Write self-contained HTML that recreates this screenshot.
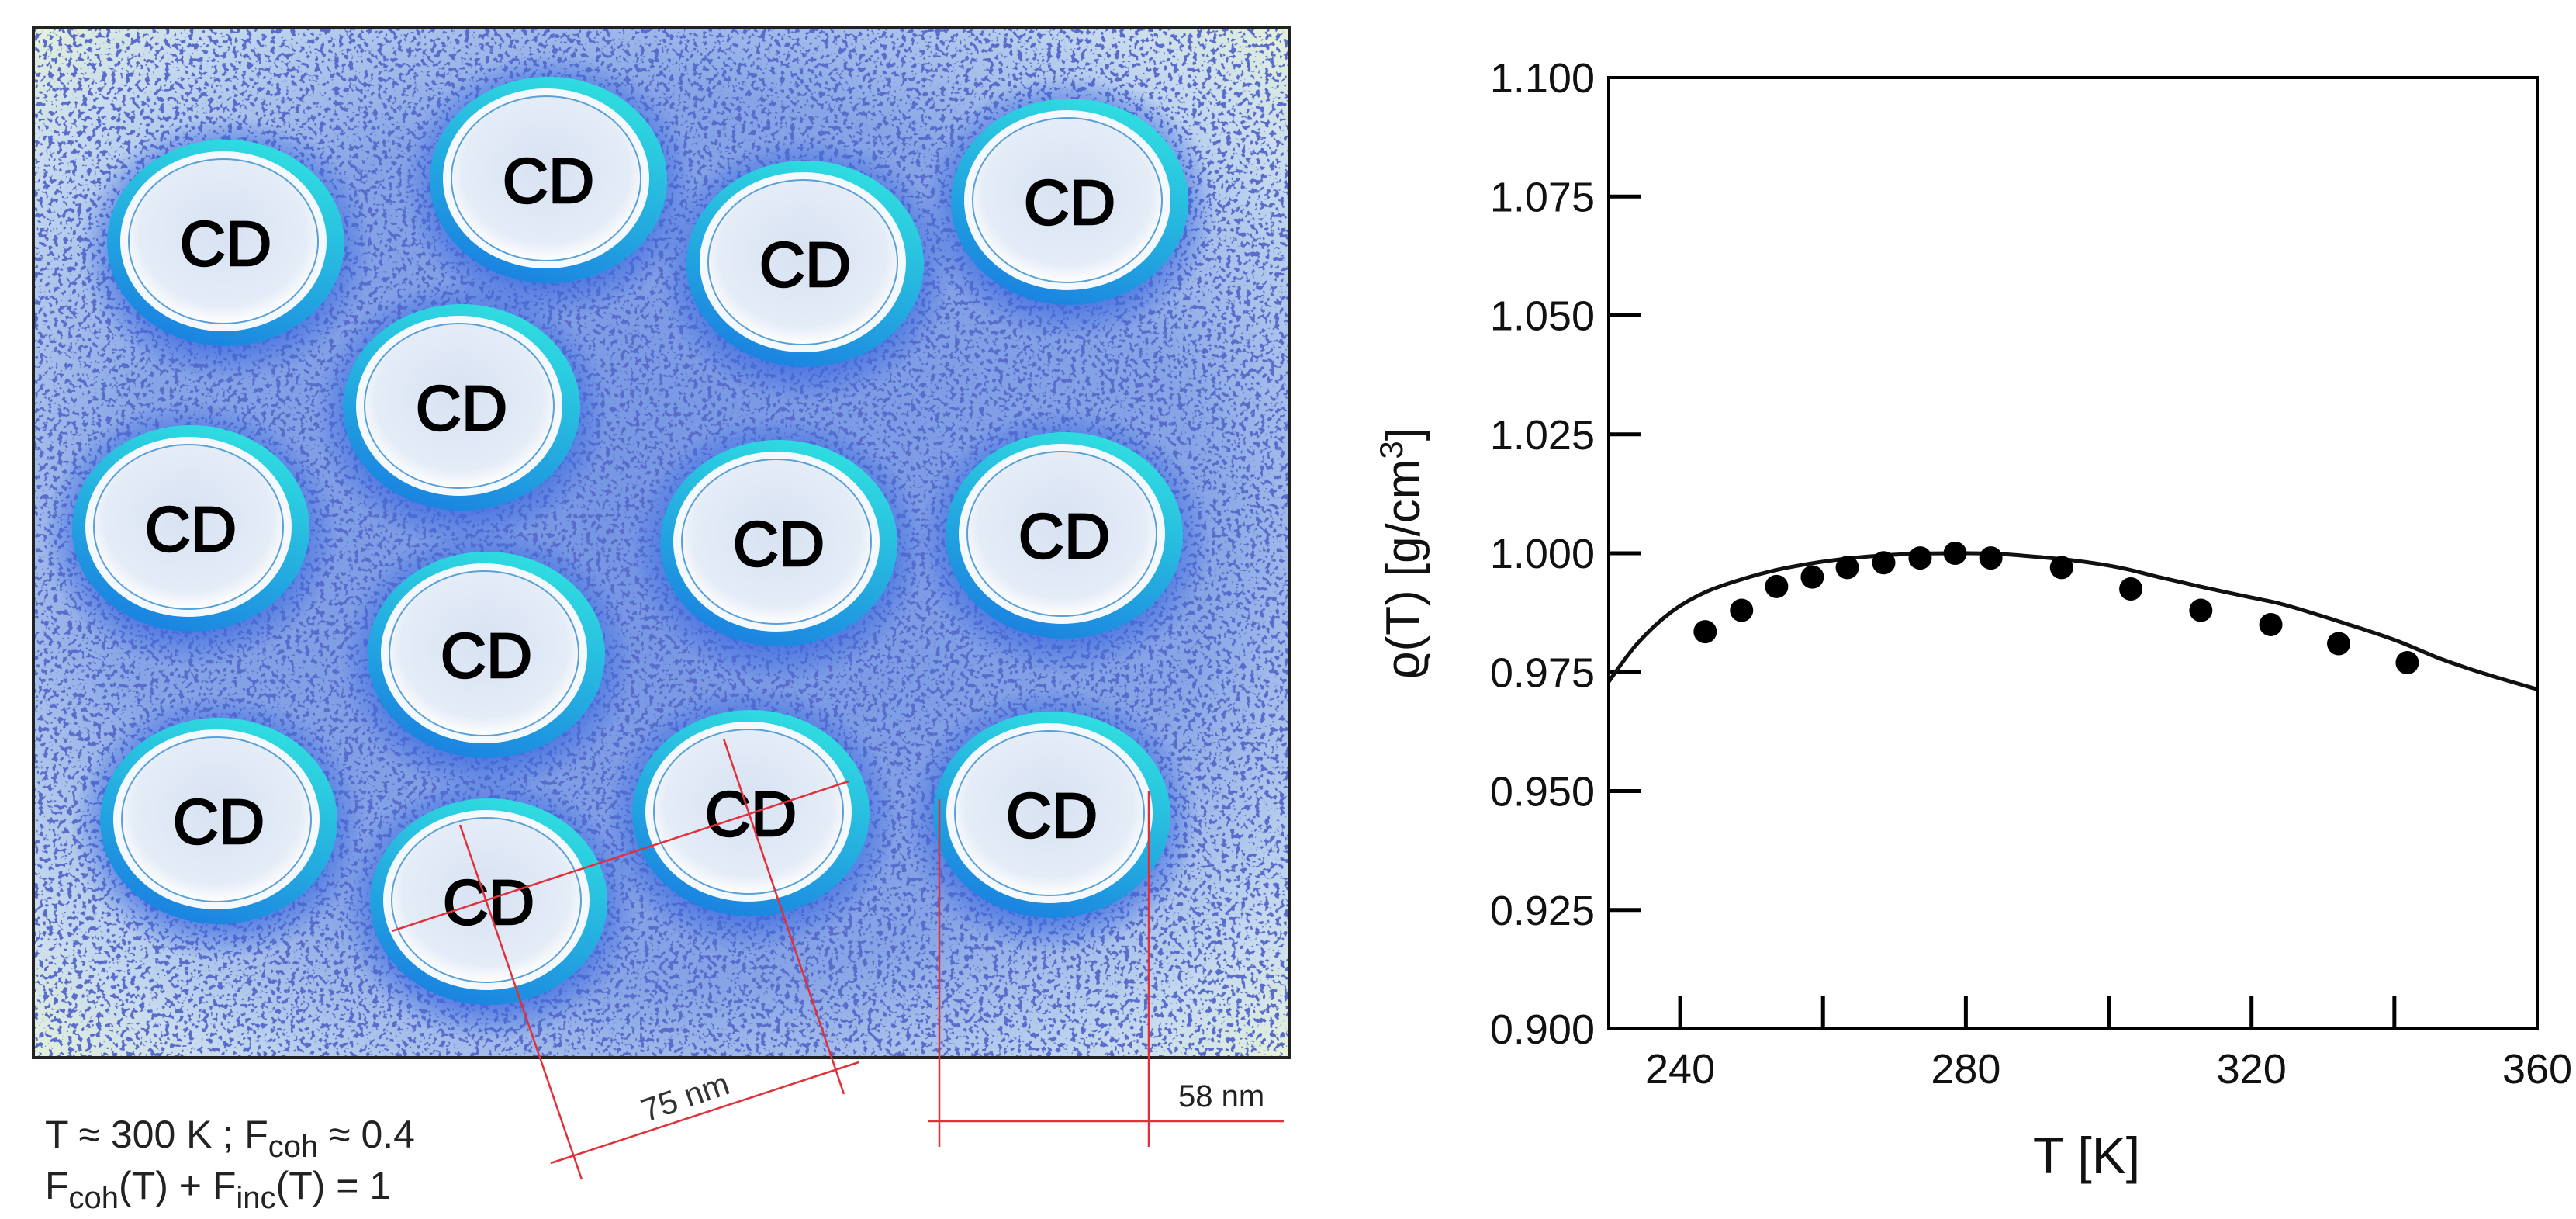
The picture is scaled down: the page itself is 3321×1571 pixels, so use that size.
<!DOCTYPE html>
<html><head><meta charset="utf-8"><style>
html,body{margin:0;padding:0;background:#fff;}
svg{display:block;}
text{font-family:"Liberation Sans",sans-serif;}
</style></head><body>
<svg width="3321" height="1571" viewBox="0 0 3321 1571" xmlns="http://www.w3.org/2000/svg">
<defs>
<filter id="speck" x="0" y="0" width="100%" height="100%">
<feTurbulence type="fractalNoise" baseFrequency="0.16" numOctaves="2" seed="4" result="n"/>
<feColorMatrix in="n" type="matrix" values="0 0 0 0 0.1  0 0 0 0 0.15  0 0 0 0 0.6  0 0 0 16 -8.9" result="d"/>
<feComposite in="d" in2="SourceGraphic" operator="in"/>
</filter>
<radialGradient id="bgGrad" cx="50%" cy="50%" r="72%">
<stop offset="0" stop-color="#7495e4"/>
<stop offset="0.6" stop-color="#86a4e6"/>
<stop offset="0.85" stop-color="#c8dbef"/>
<stop offset="1" stop-color="#eaf6d6"/>
</radialGradient>
<radialGradient id="glow" cx="50%" cy="50%" r="50%">
<stop offset="0.65" stop-color="#3a68e0" stop-opacity="0.85"/>
<stop offset="1" stop-color="#3a68e0" stop-opacity="0"/>
</radialGradient>
<linearGradient id="ring" x1="0.7" y1="0" x2="0.3" y2="1">
<stop offset="0" stop-color="#30e0e0"/>
<stop offset="1" stop-color="#1a80e0"/>
</linearGradient>
<radialGradient id="disc" cx="50%" cy="45%" r="55%">
<stop offset="0" stop-color="#d8e2f2"/>
<stop offset="0.8" stop-color="#e4ecf7"/>
<stop offset="1" stop-color="#ffffff"/>
</radialGradient>
</defs>

<g>
<rect x="43" y="35" width="1619" height="1328" fill="url(#bgGrad)"/>
<rect x="43" y="35" width="1619" height="1328" fill="#fff" filter="url(#speck)"/>
<g id="cds"></g>
<rect x="43" y="35" width="1619" height="1328" fill="none" stroke="#222" stroke-width="4"/>
<g stroke="#e0303a" stroke-width="2.5" fill="none">
<line x1="505" y1="1200" x2="1094" y2="1007"/>
<line x1="593" y1="1063" x2="750" y2="1520"/>
<line x1="933" y1="952" x2="1088" y2="1410"/>
<line x1="710" y1="1499" x2="1107" y2="1369"/>
<line x1="1211" y1="1030" x2="1211" y2="1478"/>
<line x1="1481" y1="1020" x2="1481" y2="1478"/>
<line x1="1197" y1="1445" x2="1655" y2="1445"/>
</g>
<text x="883" y="1428" font-size="42" fill="#333" text-anchor="middle" transform="rotate(-19 883 1413)">75 nm</text>
<text x="1519" y="1426" font-size="40" fill="#222">58 nm</text>
<text x="58" y="1479" font-size="50" fill="#222">T ≈ 300 K ; F<tspan font-size="40" dy="12">coh</tspan><tspan dy="-12"> ≈ 0.4</tspan></text>
<text x="58" y="1545" font-size="50" fill="#222">F<tspan font-size="40" dy="12">coh</tspan><tspan dy="-12">(T) + F</tspan><tspan font-size="40" dy="12">inc</tspan><tspan dy="-12">(T) = 1</tspan></text>
</g>

<g id="chart">
<g id="yticks"></g>
<g id="xticks"></g>
<path id="curve" fill="none" stroke="#111" stroke-width="5"/>
<g id="dots"></g>
<rect x="2074" y="100" width="1197" height="1226" fill="none" stroke="#000" stroke-width="4"/>
<text x="1830" y="713" font-size="62" fill="#111" text-anchor="middle" transform="rotate(-90 1830 713)">ϱ(T) [g/cm<tspan font-size="42" dy="-22">3</tspan><tspan dy="22">]</tspan></text>
<text x="2690" y="1512" font-size="66" fill="#111" text-anchor="middle">T [K]</text>
</g>
</svg>
<script>
var cdX=[291,707,1038,1379,595,246,1004,1372,627,282,968,1356,630];
var cdY=[313,232,340,260,525,681,700,690,844,1058,1048,1050,1162];
var yTickVals=[0.900,0.925,0.950,0.975,1.000,1.025,1.050,1.075,1.100];
var yTickLabels=["0.900","0.925","0.950","0.975","1.000","1.025","1.050","1.075","1.100"];
var xTickVals=[240,260,280,300,320,340];
var xLabelVals=[240,280,320,360];
var xLabels=["240","280","320","360"];
var pointT=[243.5,248.6,253.5,258.5,263.4,268.5,273.6,278.5,283.5,293.4,303.1,312.9,322.7,332.2,341.8];
var pointRho=[0.9835,0.988,0.993,0.995,0.997,0.998,0.999,1.000,0.999,0.997,0.9925,0.988,0.985,0.981,0.977];
var curveT=[230,234,238.8,243.5,248.8,253.5,258.9,263.5,267.9,273,279,284,288,295,301.5,307,312.8,318,324,329,333,340,346.5,353,360];
var curveRho=[0.973,0.981,0.9877,0.9918,0.9946,0.9965,0.998,0.9989,0.9995,0.9999,1.0,0.9999,0.9995,0.9985,0.997,0.995,0.993,0.9913,0.9894,0.9872,0.9853,0.9818,0.9778,0.9745,0.9714];
var NS="http://www.w3.org/2000/svg";
function X(t){return 2074+(t-230)/(360-230)*1197;}
function Y(v){return 1326-(v-0.9)/(0.2)*1226;}
function mk(tag,attrs,parent){var e=document.createElementNS(NS,tag);for(var k in attrs)e.setAttribute(k,attrs[k]);parent.appendChild(e);return e;}
var cds=document.getElementById('cds');
for(var i=0;i<cdX.length;i++){
 var g=mk('g',{},cds);
 
 
 var cx=cdX[i],cy=cdY[i];
 mk('ellipse',{cx:cx,cy:cy+8,rx:190,ry:172,fill:'url(#glow)'},g);
 mk('ellipse',{cx:cx,cy:cy,rx:153,ry:133,fill:'url(#ring)'},g);
 mk('ellipse',{cx:cx-3,cy:cy-2,rx:133,ry:116,fill:'#f4f8ff'},g);
 mk('ellipse',{cx:cx-3,cy:cy-2,rx:122,ry:106,fill:'url(#disc)',stroke:'#5aa0d8','stroke-width':2},g);
 var t=mk('text',{x:cx,y:cy+29,'font-size':82,'text-anchor':'middle',fill:'#000',stroke:'#000','stroke-width':2.5},g);
 t.textContent='CD';
 
 
}
var yt=document.getElementById('yticks');
for(var i=0;i<yTickVals.length;i++){
 var y=Y(yTickVals[i]);
 if(i>0&&i<yTickVals.length-1){var l=mk('line',{x1:2074,x2:2116,y1:y,y2:y,stroke:'#000','stroke-width':5},yt);
 
 }
 var t=mk('text',{x:2056,y:y+19,'font-size':54,'text-anchor':'end',fill:'#111'},yt);
 t.textContent=yTickLabels[i];
 
 
}
var xt=document.getElementById('xticks');
for(var i=0;i<xTickVals.length;i++){
 var x=X(xTickVals[i]);
 var l=mk('line',{x1:x,x2:x,y1:1326,y2:1284,stroke:'#000','stroke-width':5},xt);
 
 
}
for(var i=0;i<xLabelVals.length;i++){
 var t=mk('text',{x:X(xLabelVals[i]),y:1396,'font-size':54,'text-anchor':'middle',fill:'#111'},xt);
 t.textContent=xLabels[i];
 
 
}
// smooth Catmull-Rom path through curve points
var P=[];for(var i=0;i<curveT.length;i++)P.push([X(curveT[i]),Y(curveRho[i])]);
var d='M'+P[0][0].toFixed(1)+' '+P[0][1].toFixed(1);
for(var i=0;i<P.length-1;i++){
 var p0=P[i>0?i-1:0],p1=P[i],p2=P[i+1],p3=P[i+2<P.length?i+2:i+1];
 var c1x=p1[0]+(p2[0]-p0[0])/6,c1y=p1[1]+(p2[1]-p0[1])/6;
 var c2x=p2[0]-(p3[0]-p1[0])/6,c2y=p2[1]-(p3[1]-p1[1])/6;
 d+='C'+c1x.toFixed(1)+' '+c1y.toFixed(1)+' '+c2x.toFixed(1)+' '+c2y.toFixed(1)+' '+p2[0].toFixed(1)+' '+p2[1].toFixed(1);
}
document.getElementById('curve').setAttribute('d',d);
var dots=document.getElementById('dots');
for(var i=0;i<pointT.length;i++){
 var c=mk('circle',{cx:X(pointT[i]),cy:Y(pointRho[i]),r:15,fill:'#000'},dots);
 
 
}
</script>
</body></html>
